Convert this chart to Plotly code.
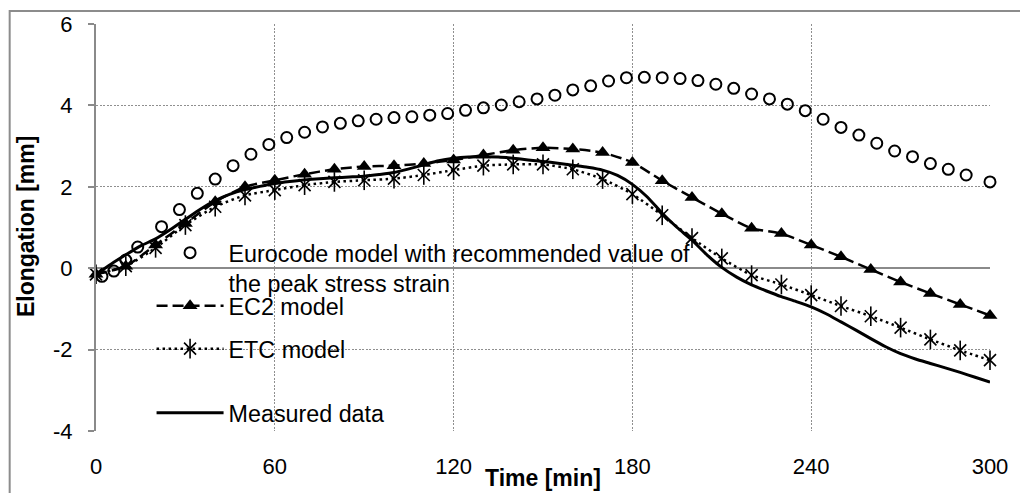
import plotly.graph_objects as go

# ---------------- data ----------------
time_eurocode = [2, 6, 10, 14, 22, 28, 34, 40, 46, 52, 58, 64, 70, 76, 82, 88, 94, 100,
                 106, 112, 118, 124, 130, 136, 142, 148, 154, 160, 166, 172, 178, 184,
                 190, 196, 202, 208, 214, 220, 226, 232, 238, 244, 250, 256, 262, 268,
                 274, 280, 286, 292, 300]
eurocode_vals = [-0.20, -0.07, 0.20, 0.52, 1.02, 1.44, 1.84, 2.19, 2.52, 2.80, 3.04, 3.21,
                 3.34, 3.47, 3.56, 3.62, 3.66, 3.70, 3.72, 3.76, 3.80, 3.88, 3.94, 4.01,
                 4.09, 4.16, 4.25, 4.38, 4.48, 4.60, 4.68, 4.69, 4.68, 4.66, 4.61, 4.52,
                 4.42, 4.28, 4.16, 4.03, 3.87, 3.66, 3.46, 3.27, 3.07, 2.88, 2.74, 2.57,
                 2.43, 2.29, 2.12]

time_models = [0, 10, 20, 30, 40, 50, 60, 70, 80, 90, 100, 110, 120, 130, 140, 150, 160,
               170, 180, 190, 200, 210, 220, 230, 240, 250, 260, 270, 280, 290, 300]
ec2_vals = [-0.15, 0.05, 0.57, 1.10, 1.63, 2.00, 2.16, 2.31, 2.43, 2.50, 2.52, 2.57, 2.66,
            2.78, 2.90, 2.96, 2.93, 2.84, 2.60, 2.15, 1.74, 1.34, 0.98, 0.85, 0.57, 0.28,
            -0.03, -0.34, -0.62, -0.89, -1.16]
etc_vals = [-0.15, 0.05, 0.50, 1.06, 1.51, 1.79, 1.92, 2.04, 2.12, 2.16, 2.20, 2.29, 2.41,
            2.52, 2.55, 2.55, 2.43, 2.19, 1.82, 1.30, 0.74, 0.24, -0.17, -0.40, -0.66,
            -0.93, -1.18, -1.46, -1.75, -2.02, -2.26]

time_measured = list(range(0, 301, 5))
measured_vals = [-0.15, 0.10, 0.33, 0.55, 0.72, 0.95, 1.20, 1.45, 1.66, 1.82, 1.93, 2.01,
                 2.08, 2.13, 2.17, 2.20, 2.22, 2.24, 2.26, 2.30, 2.35, 2.44, 2.54, 2.64,
                 2.70, 2.73, 2.74, 2.73, 2.70, 2.66, 2.62, 2.58, 2.53, 2.48, 2.41, 2.28,
                 2.06, 1.75, 1.35, 1.00, 0.69, 0.33, 0.02, -0.22, -0.41, -0.56, -0.70,
                 -0.82, -0.95, -1.12, -1.32, -1.52, -1.73, -1.93, -2.10, -2.23, -2.34,
                 -2.45, -2.56, -2.68, -2.80]

x_ticks = [0, 60, 120, 180, 240, 300]
y_ticks = [-4, -2, 0, 2, 4, 6]

series_names = ["Eurocode model with recommended value of<br>the peak stress strain",
                "EC2 model", "ETC model", "Measured data"]

# ---------------- geometry helpers (pixel -> paper) ----------------
W, H = 1020, 493
L, R, T, B = 96, 23, 24, 62
PW, PH = W - L - R, H - T - B


def px(x):
    return (x - L) / PW


def py(y):
    return (H - B - y) / PH


FONT = "Liberation Sans, Arial, sans-serif"
GRID = "#8f8f8f"
AXIS = "#8a8a8a"

fig = go.Figure()

fig.add_trace(go.Scatter(
    x=time_eurocode, y=eurocode_vals, mode="markers", name=series_names[0],
    marker=dict(symbol="circle-open", size=11, color="black", line=dict(width=2, color="black")),
    legend="legend", cliponaxis=False))

fig.add_trace(go.Scatter(
    x=time_models, y=ec2_vals, mode="lines+markers", name=series_names[1],
    line=dict(color="black", width=2.5, dash="11px,5px", shape="spline", smoothing=0.6),
    marker=dict(symbol="triangle-up", size=13, color="black"),
    legend="legend2", cliponaxis=False))

fig.add_trace(go.Scatter(
    x=time_models, y=etc_vals, mode="lines+markers", name=series_names[2],
    line=dict(color="black", width=2.5, dash="2.5px,3.5px", shape="spline", smoothing=0.6),
    marker=dict(symbol="x-thin-open", size=12, color="black", line=dict(width=1.6, color="black")),
    legend="legend3", cliponaxis=False))

fig.add_trace(go.Scatter(
    x=time_models, y=etc_vals, mode="markers", name=series_names[2],
    marker=dict(symbol="line-ns-open", size=14, color="black", line=dict(width=1.6, color="black")),
    legend="legend5", cliponaxis=False))

fig.add_trace(go.Scatter(
    x=time_measured, y=measured_vals, mode="lines", name=series_names[3],
    line=dict(color="black", width=3, shape="spline", smoothing=0.6),
    legend="legend4", cliponaxis=False))

legend_common = dict(
    font=dict(family=FONT, size=23.3, color="black"),
    bgcolor="rgba(0,0,0,0)", borderwidth=0, itemwidth=67,
    xanchor="left", yanchor="middle", valign="top",
    itemclick=False, itemdoubleclick=False,
)

LEG_X = px(152)
fig.update_layout(
    legend=dict(legend_common, x=LEG_X, y=py(268)),
    legend2=dict(legend_common, x=LEG_X, y=py(306)),
    legend3=dict(legend_common, x=LEG_X, y=py(349)),
    legend5=dict(legend_common, x=LEG_X, y=py(349),
                 font=dict(family=FONT, size=23.3, color="rgba(0,0,0,0)")),
    legend4=dict(legend_common, x=LEG_X, y=py(413)),
)

fig.update_xaxes(
    range=[0, 300], tickvals=x_ticks, ticktext=[str(v) for v in x_ticks],
    showgrid=True, gridcolor=GRID, gridwidth=1, griddash="2px,1.5px",
    zeroline=False, showline=False, ticks="",
    tickfont=dict(family=FONT, size=22, color="black"),
    ticklabelstandoff=20,
)
fig.update_yaxes(
    range=[-4, 6], tickvals=y_ticks, ticktext=[str(v) for v in y_ticks],
    showgrid=True, gridcolor=GRID, gridwidth=1, griddash="2px,1.5px",
    zeroline=True, zerolinecolor=AXIS, zerolinewidth=2,
    showline=True, linecolor=AXIS, linewidth=2,
    ticks="outside", ticklen=6, tickcolor=AXIS, tickwidth=1.5,
    tickfont=dict(family=FONT, size=22, color="black"),
    ticklabelstandoff=11,
)

fig.update_layout(
    width=W, height=H,
    margin=dict(l=L, r=R, t=T, b=B, pad=0),
    plot_bgcolor="white", paper_bgcolor="white",
    showlegend=True,
    annotations=[
        dict(text="<b>Elongation [mm]</b>", x=px(25), y=py(226.5), xref="paper", yref="paper",
             textangle=-90, showarrow=False, xanchor="center", yanchor="middle",
             font=dict(family=FONT, size=23, color="black")),
        dict(text="<b>Time [min]</b>", x=px(547), y=py(478), xref="paper", yref="paper",
             showarrow=False, xanchor="center", yanchor="middle",
             font=dict(family=FONT, size=23, color="black")),
    ],
    shapes=[
        dict(type="rect", xref="paper", yref="paper",
             x0=px(9), y0=py(520), x1=px(1040), y1=py(11),
             line=dict(color="#8c8c8c", width=2), fillcolor="rgba(0,0,0,0)", layer="below"),
    ],
)

fig.write_html(
    "out.html",
    config={"displayModeBar": False},
    post_script="document.body.style.margin='0';document.body.style.overflow='hidden';",
)
